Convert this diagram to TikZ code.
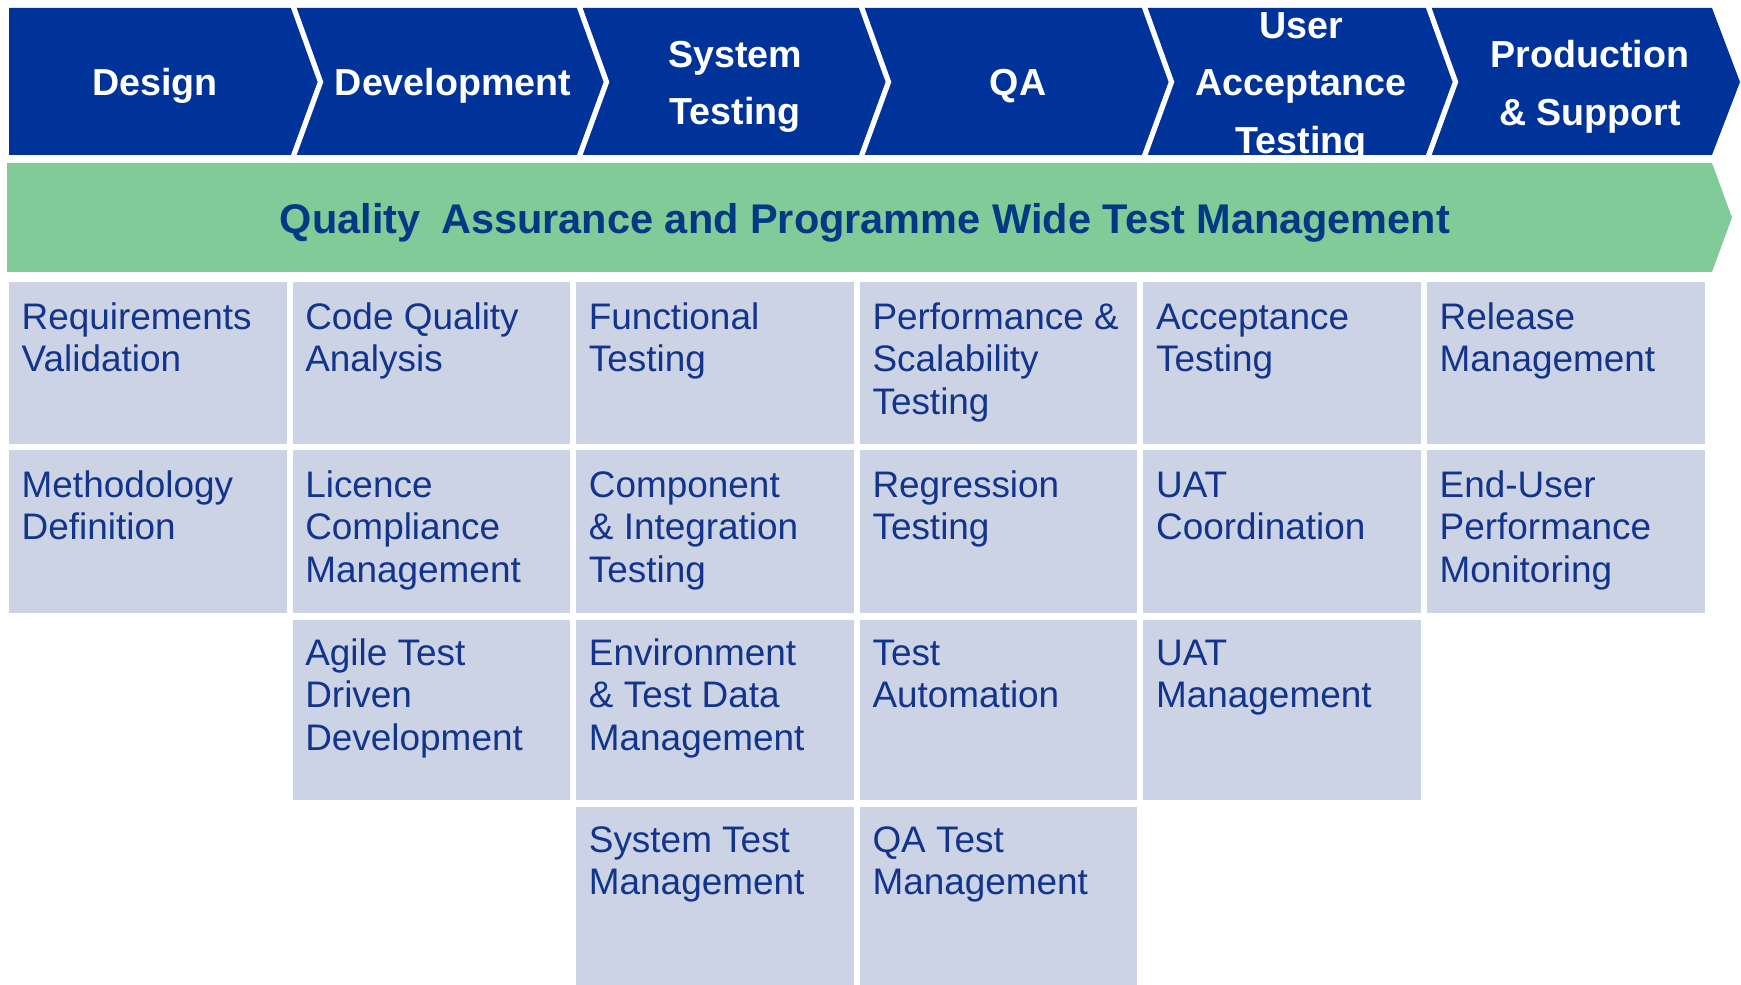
\documentclass[tikz,border=0pt]{standalone}
\usepackage{fontspec}
\setmainfont{Liberation Sans}
\definecolor{phaseblue}{RGB}{0,51,153}
\definecolor{bandgreen}{RGB}{128,203,152}
\definecolor{cellfill}{RGB}{204,211,228}
\definecolor{celltext}{RGB}{18,52,140}
\definecolor{bandtext}{RGB}{0,58,132}

\begin{document}
\begin{tikzpicture}[x=0.01cm, y=-0.01cm]
    \tikzstyle{phase} = [text=white, align=center, inner sep=0pt, font={\fontsize{10.7}{16.4}\selectfont\bfseries}];
    \tikzstyle{band} = [text=bandtext, inner sep=0pt, font={\fontsize{11.8}{14}\selectfont\bfseries}];
    \tikzstyle{activity} = [text=celltext, align=left, anchor=north west, inner sep=0pt, font={\fontsize{10.5}{12.05}\selectfont}];
    \useasboundingbox (0,0) rectangle (1741,985);

    % phase arrow, cut into chevrons by white strokes
    \fill[phaseblue] (9,8) -- (1712,8) -- (1740,82) -- (1712,155) -- (9,155) -- cycle;
    \foreach \x in {292,578,860,1143,1427}
        \draw[white, line width=1.5pt] (\x,3) -- (\x+28.5,82) -- (\x,160);

    % QA band
    \fill[bandgreen] (7,163) -- (1712,163) -- (1732,217.5) -- (1712,272) -- (7,272) -- cycle;

    % activity cells, one row at a time
    \foreach \col in {1,...,6} \fill[cellfill] ({9+283.6*(\col-1)},282) rectangle ++(277.5,162);
    \foreach \col in {1,...,6} \fill[cellfill] ({9+283.6*(\col-1)},450) rectangle ++(277.5,163);
    \foreach \col in {2,...,5} \fill[cellfill] ({9+283.6*(\col-1)},620) rectangle ++(277.5,180);
    \foreach \col in {3,4}     \fill[cellfill] ({9+283.6*(\col-1)},807) rectangle ++(277.5,180);

    \node[phase] (design)  at (155,86)  {Design};
    \node[phase] (devel)   at (453,86)  {Development};
    \node[phase] (systest) at (735,87)  {System\\Testing};
    \node[phase] (qa)      at (1018,86) {QA};
    \node[phase] (uat)     at (1301,87) {User\\Acceptance\\Testing};
    \node[phase] (prod)    at (1590,87) {Production\\\& Support};

    \node[band] (qaband) at (865,222.5) {Quality\enspace Assurance and Programme Wide Test Management};

    % row 1
    \node[activity] (reqval)   at (21,299)     {\strut Requirements\\Validation};
    \node[activity] (codeqa)   at (304.6,299)  {\strut Code Quality\\Analysis};
    \node[activity] (functest) at (588.2,299)  {\strut Functional\\Testing};
    \node[activity] (perftest) at (871.8,299)  {\strut Performance \&\\Scalability\\Testing};
    \node[activity] (accept)   at (1155.4,299) {\strut Acceptance\\Testing};
    \node[activity] (release)  at (1439,299)   {\strut Release\\Management};
    % row 2
    \node[activity] (method)   at (21,467)     {\strut Methodology\\Definition};
    \node[activity] (licence)  at (304.6,467)  {\strut Licence\\Compliance\\Management};
    \node[activity] (compint)  at (588.2,467)  {\strut Component\\\& Integration\\Testing};
    \node[activity] (regress)  at (871.8,467)  {\strut Regression\\Testing};
    \node[activity] (uatcoord) at (1155.4,467) {\strut UAT\\Coordination};
    \node[activity] (enduser)  at (1439,467)   {\strut End-User\\Performance\\Monitoring};
    % row 3
    \node[activity] (agile)    at (304.6,635)  {\strut Agile Test\\Driven\\Development};
    \node[activity] (envdata)  at (588.2,635)  {\strut Environment\\\& Test Data\\Management};
    \node[activity] (testauto) at (871.8,635)  {\strut Test\\Automation};
    \node[activity] (uatmgmt)  at (1155.4,635) {\strut UAT\\Management};
    % row 4
    \node[activity] (sysmgmt)  at (588.2,822)  {\strut System Test\\Management};
    \node[activity] (qamgmt)   at (871.8,822)  {\strut QA Test\\Management};
\end{tikzpicture}
\end{document}
